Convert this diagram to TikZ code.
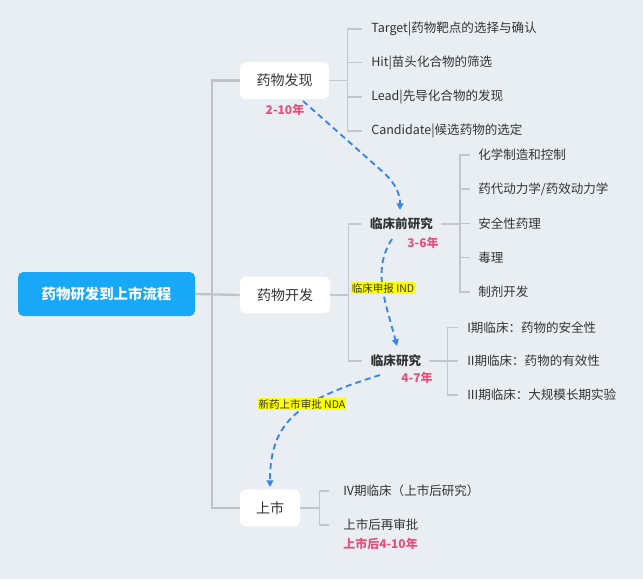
\documentclass[tikz,border=0pt]{standalone}
\usepackage{fontspec}
\setmainfont{Noto Sans CJK SC}
\usetikzlibrary{arrows.meta,calc}
\definecolor{bgc}{HTML}{E9EEF2}
\definecolor{rootc}{HTML}{17A8F7}
\definecolor{trunkc}{HTML}{BFC3C7}
\definecolor{brc}{HTML}{C3C7CB}
\definecolor{txtc}{HTML}{333333}
\definecolor{pinkc}{HTML}{E8507A}
\definecolor{bluec}{HTML}{3C84E8}
\definecolor{hlc}{HTML}{FFFF00}
\tikzset{
  rootbox/.style={fill=rootc,rounded corners=4pt,text=white,font=\fontsize{10.8pt}{13pt}\selectfont\bfseries,minimum width=132.75pt,minimum height=33pt,inner sep=0pt},
  mainbox/.style={fill=white,rounded corners=4pt,text=txtc,font=\fontsize{10.5pt}{12pt}\selectfont,minimum height=27.5pt,inner sep=0pt},
  subhead/.style={text=txtc,font=\fontsize{9.4pt}{11pt}\selectfont\bfseries,inner sep=0pt},
  leaf/.style={anchor=west,text=txtc,font=\fontsize{9.4pt}{11pt}\selectfont,inner sep=0pt},
  yrs/.style={text=pinkc,font=\fontsize{9pt}{11pt}\selectfont\bfseries,inner sep=0pt},
  trunk/.style={draw=trunkc,line width=1.7pt},
  br/.style={draw=brc,line width=1pt},
  flow/.style={draw=bluec,line width=1.4pt,dash pattern=on 4.5pt off 3pt,-{Triangle[length=5pt,width=5pt]}},
  hl/.style={fill=hlc,text=txtc,font=\fontsize{7.9pt}{9pt}\selectfont,inner xsep=0.5pt,inner ysep=1pt}
}
\begin{document}
\begin{tikzpicture}[x=0.75pt,y=-0.75pt]
\fill[bgc] (0,0) rectangle (643,579);
\useasboundingbox (0,0) rectangle (643,579);
% main nodes
\node[rootbox] (root) at (106.5,294) {药物研发到上市流程};
\node[mainbox,minimum width=66.75pt] (n1) at (284.5,80.5) {药物发现};
\node[mainbox,minimum width=67.5pt] (n2) at (285,295) {药物开发};
\node[mainbox,minimum width=45pt] (n3) at (270,508) {上市};
% trunk
\draw[trunk] (n1.west) -- ++(-28,0) |- (n3.west);
\draw[trunk] (root.east) -- (n2.west);
% discovery leaves
\node[leaf] (d1) at (371,29) {Target|药物靶点的选择与确认};
\node[leaf] (d2) at (371,62.5) {Hit|苗头化合物的筛选};
\node[leaf] (d3) at (371,97) {Lead|先导化合物的发现};
\node[leaf] (d4) at (371,131) {Candidate|候选药物的选定};
\foreach \l in {d1,d2,d3,d4}
  \draw[br] (n1.east) -- ++(18,0) |- ($(\l.west)+(-9,0)$);
% development
\node[subhead] (pre) at (401.5,224) {临床前研究};
\node[subhead] (cli) at (396,361) {临床研究};
\foreach \l in {pre,cli}
  \draw[br] (n2.east) -- ++(18,0) |- ($(\l.west)+(-9,0)$);
\node[leaf] (p1) at (478,155) {化学制造和控制};
\node[leaf] (p2) at (478,189) {药代动力学/药效动力学};
\node[leaf] (p3) at (478,223.5) {安全性药理};
\node[leaf] (p4) at (478,257.5) {毒理};
\node[leaf] (p5) at (478,292) {制剂开发};
\foreach \l in {p1,p2,p3,p4,p5}
  \draw[br] ($(pre.east)+(8,0)$) -- ++(19,0) |- ($(\l.west)+(-8,0)$);
\node[leaf] (c1) at (467,327.5) {I期临床：药物的安全性};
\node[leaf] (c2) at (467,361) {II期临床：药物的有效性};
\node[leaf] (c3) at (467,395) {III期临床：大规模长期实验};
\foreach \l in {c1,c2,c3}
  \draw[br] ($(cli.east)+(8,0)$) -- ++(18,0) |- ($(\l.west)+(-9,0)$);
% market leaves
\node[leaf] (m1) at (343,491) {IV期临床（上市后研究）};
\node[leaf] (m2) at (343,525) {上市后再审批};
\foreach \l in {m1,m2}
  \draw[br] (n3.east) -- ++(19,0) |- ($(\l.west)+(-14,0)$);
% durations
\node[yrs] (y1) at (285,110) {2-10年};
\node[yrs] (y2) at (423,243) {3-6年};
\node[yrs] (y3) at (417,378) {4-7年};
\node[yrs,anchor=west] (y4) at (343,544) {上市后4-10年};
% flow arrows
\coordinate (a1s) at (303,101);
\coordinate (a1e) at (400,210);
\coordinate (a2s) at (392,239);
\coordinate (a2e) at (397,346);
\coordinate (a3s) at (380,375);
\coordinate (a3e) at (270,487);
\draw[flow] (a1s) -- (383,172) .. controls (396,184) and (400,194) .. (a1e);
\draw[flow] (a2s) .. controls (372,270) and (385,300) .. (a2e);
\draw[flow] (a3s) .. controls (300,400) and (270,420) .. (a3e);
\node[hl] (ind) at (383,288) {临床申报 IND};
\node[hl] (nda) at (302,404) {新药上市审批 NDA};
\end{tikzpicture}
\end{document}
